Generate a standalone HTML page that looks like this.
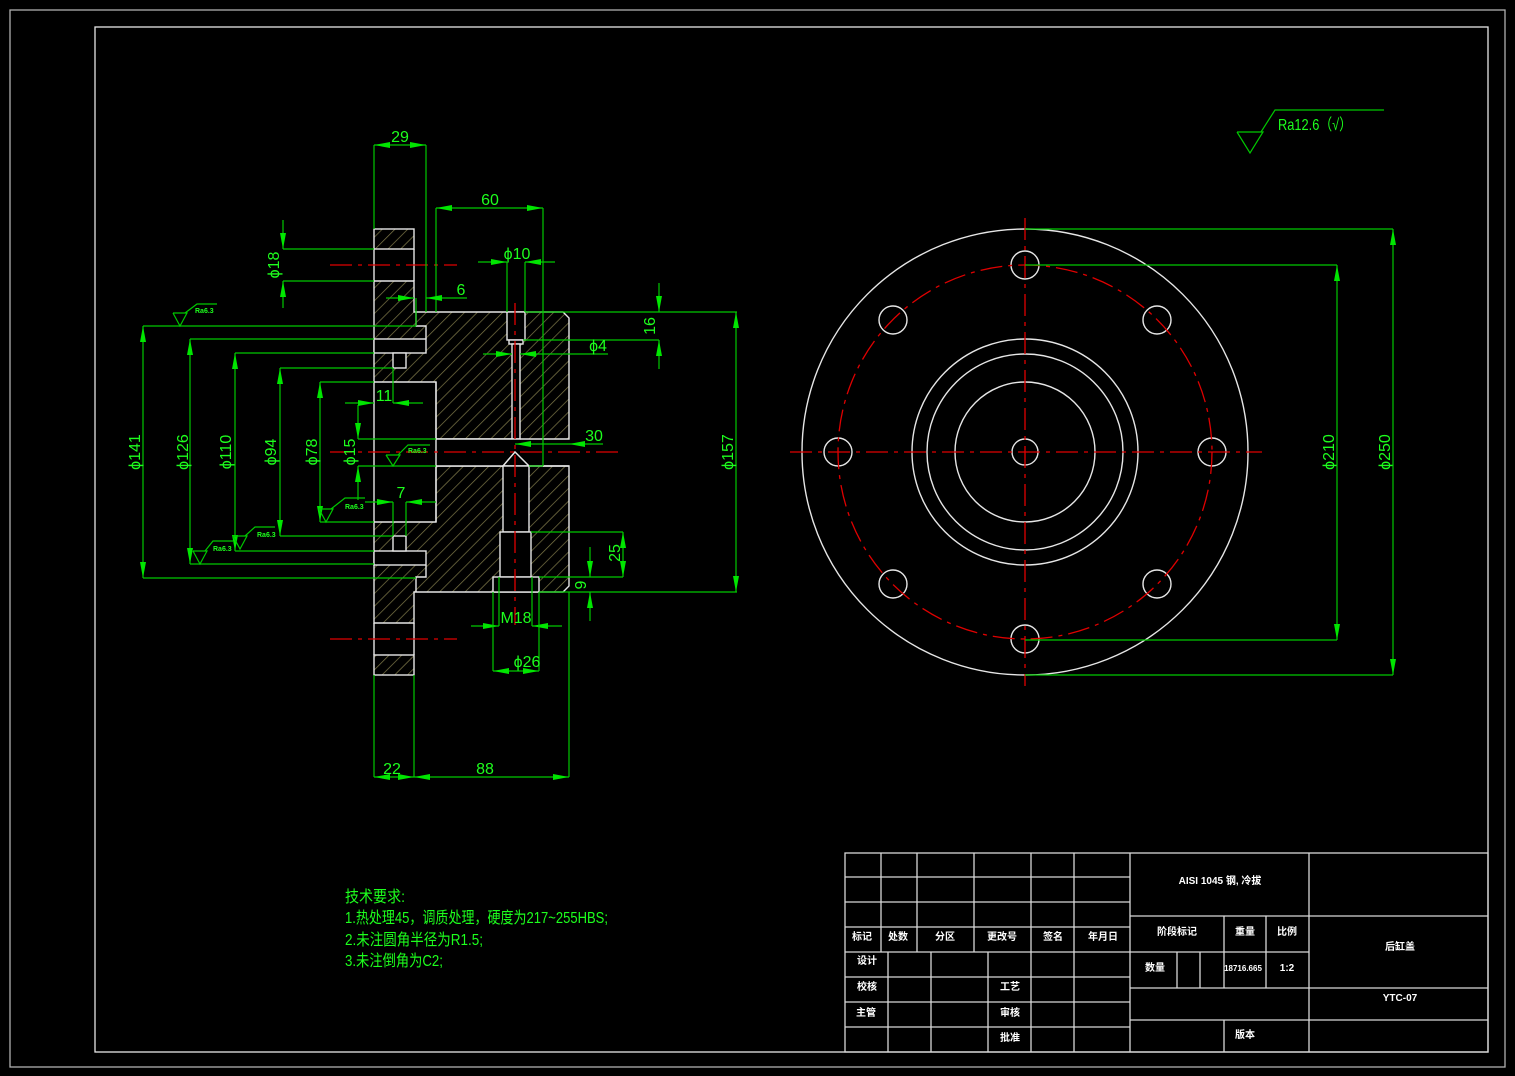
<!DOCTYPE html>
<html><head><meta charset="utf-8">
<style>
html,body{margin:0;padding:0;background:#000;}
svg{display:block;}
text{font-family:"Liberation Sans","Noto Sans CJK SC",sans-serif;}
.g{stroke:#00c800;stroke-width:1.2;fill:none;}
.w{stroke:#e6e6e6;stroke-width:1.4;fill:none;}
.r{stroke:#e00000;stroke-width:1.3;fill:none;stroke-dasharray:22 6 4 6;}
.t{fill:#1dff1d;font-size:16px;}
.tb{fill:#fff;font-size:10px;font-weight:bold;}
</style></head>
<body>
<svg width="1515" height="1076" viewBox="0 0 1515 1076" xmlns="http://www.w3.org/2000/svg">
<defs>
<pattern id="h" patternUnits="userSpaceOnUse" width="9" height="9" patternTransform="rotate(45)">
<rect width="9" height="9" fill="#000"/>
<line x1="0" y1="0" x2="0" y2="9" stroke="#807a4a" stroke-width="1.4"/>
</pattern>
<marker id="a" viewBox="0 0 16 6" refX="16" refY="3" markerWidth="16" markerHeight="6" markerUnits="userSpaceOnUse" orient="auto-start-reverse">
<path d="M0,0 L16,3 L0,6 z" fill="#00e600"/>
</marker>
</defs>
<rect width="1515" height="1076" fill="#000"/>
<rect x="10" y="10" width="1495" height="1057" fill="none" stroke="#b0b0b0" stroke-width="1.3"/>
<rect x="95" y="27" width="1393" height="1025" fill="none" stroke="#e6e6e6" stroke-width="1.3"/>

<!-- LEFT SECTION VIEW -->
<g>
<rect x="374" y="229" width="40" height="20" style="fill:url(#h)" class="w"/>
<polygon points="374,281 414,281 414,312 563,312 569,318 569,439 436,439 436,382 374,382" style="fill:url(#h)" class="w"/>
<polygon points="374,522 436,522 436,466 569,466 569,586 563,592 414,592 414,623 374,623" style="fill:url(#h)" class="w"/>
<rect x="374" y="655" width="40" height="20" style="fill:url(#h)" class="w"/>
<rect x="374" y="339" width="52" height="14" style="fill:#000" class="w"/>
<rect x="393" y="353" width="13" height="15" style="fill:#000" class="w"/>
<polyline points="416,312 416,326 426,326 426,339" class="w"/>
<rect x="374" y="551" width="52" height="14" style="fill:#000" class="w"/>
<rect x="393" y="536" width="13" height="15" style="fill:#000" class="w"/>
<polyline points="416,592 416,577 426,577 426,565" class="w"/>
<rect x="507" y="312" width="18" height="28" style="fill:#000" class="w"/>
<rect x="509" y="340" width="14" height="4" style="fill:#000" class="w"/>
<rect x="512" y="344" width="8" height="95" style="fill:#000" class="w"/>
<polygon points="436,439 520,439 520,447 515,452 503,466 436,466" style="fill:#000;stroke:none"/>
<polyline points="436,439 520,439" class="w"/>
<polyline points="436,466 503,466 515,452 529,466 569,466" class="w"/>
<polygon points="515,452 503,466 529,466" style="fill:#000" class="w"/>
<rect x="503" y="466" width="26" height="66" style="fill:#000" class="w"/>
<rect x="500" y="532" width="31" height="45" style="fill:#000" class="w"/>
<rect x="493" y="577" width="46" height="15" style="fill:#000" class="w"/>
<line x1="374" y1="382" x2="374" y2="522" class="w"/>
<line x1="374" y1="249" x2="374" y2="281" class="w"/>
<line x1="374" y1="623" x2="374" y2="655" class="w"/>
<line x1="414" y1="249" x2="414" y2="281" class="w"/>
<line x1="414" y1="623" x2="414" y2="655" class="w"/>
<line x1="436" y1="382" x2="436" y2="522" class="w"/>
</g>
<line x1="330" y1="265" x2="457" y2="265" class="r"/>
<line x1="330" y1="452" x2="620" y2="452" class="r"/>
<line x1="330" y1="639" x2="457" y2="639" class="r"/>
<line x1="515" y1="303" x2="515" y2="625" class="r"/>

<g class="g">
<polyline points="143,326 416,326"/><polyline points="143,578 416,578"/>
<polyline points="190,339 374,339"/><polyline points="190,564 374,564"/>
<polyline points="235,353 374,353"/><polyline points="235,551 374,551"/>
<polyline points="280,368 393,368"/><polyline points="280,536 393,536"/>
<polyline points="320,382 374,382"/><polyline points="320,522 374,522"/>
<polyline points="358,439 436,439"/><polyline points="358,466 436,466"/>
<polyline points="283,249 374,249"/><polyline points="283,281 374,281"/>
<line x1="143" y1="326" x2="143" y2="578" marker-start="url(#a)" marker-end="url(#a)"/>
<line x1="190" y1="339" x2="190" y2="564" marker-start="url(#a)" marker-end="url(#a)"/>
<line x1="235" y1="353" x2="235" y2="551" marker-start="url(#a)" marker-end="url(#a)"/>
<line x1="280" y1="368" x2="280" y2="536" marker-start="url(#a)" marker-end="url(#a)"/>
<line x1="320" y1="382" x2="320" y2="522" marker-start="url(#a)" marker-end="url(#a)"/>
<line x1="358" y1="405" x2="358" y2="439" marker-end="url(#a)"/>
<line x1="358" y1="500" x2="358" y2="466" marker-end="url(#a)"/>
<line x1="283" y1="220" x2="283" y2="249" marker-end="url(#a)"/>
<line x1="283" y1="308" x2="283" y2="281" marker-end="url(#a)"/>
<line x1="374" y1="145" x2="374" y2="229"/><line x1="426" y1="145" x2="426" y2="312"/>
<line x1="374" y1="145" x2="426" y2="145" marker-start="url(#a)" marker-end="url(#a)"/>
<line x1="436" y1="208" x2="436" y2="312"/><line x1="543" y1="208" x2="543" y2="466"/>
<line x1="436" y1="208" x2="543" y2="208" marker-start="url(#a)" marker-end="url(#a)"/>
<line x1="529" y1="466" x2="543" y2="466"/>
<line x1="507" y1="262" x2="507" y2="312"/><line x1="525" y1="262" x2="525" y2="312"/>
<line x1="478" y1="262" x2="507" y2="262" marker-end="url(#a)"/>
<line x1="555" y1="262" x2="525" y2="262" marker-end="url(#a)"/>
<line x1="416" y1="298" x2="416" y2="326"/>
<line x1="386" y1="298" x2="414" y2="298" marker-end="url(#a)"/>
<line x1="467" y1="298" x2="426" y2="298" marker-end="url(#a)"/>
<line x1="525" y1="312" x2="737" y2="312"/>
<line x1="523" y1="340" x2="659" y2="340"/>
<line x1="659" y1="283" x2="659" y2="312" marker-end="url(#a)"/>
<line x1="659" y1="369" x2="659" y2="340" marker-end="url(#a)"/>
<line x1="483" y1="354" x2="512" y2="354" marker-end="url(#a)"/>
<line x1="608" y1="354" x2="520" y2="354" marker-end="url(#a)"/>
<line x1="345" y1="403" x2="374" y2="403" marker-end="url(#a)"/>
<line x1="423" y1="403" x2="393" y2="403" marker-end="url(#a)"/>
<line x1="393" y1="368" x2="393" y2="403"/>
<line x1="569" y1="444" x2="515" y2="444" marker-end="url(#a)"/>
<line x1="603" y1="444" x2="569" y2="444" marker-end="url(#a)"/>
<line x1="365" y1="502" x2="393" y2="502" marker-end="url(#a)"/>
<line x1="436" y1="502" x2="406" y2="502" marker-end="url(#a)"/>
<line x1="393" y1="502" x2="393" y2="536"/><line x1="406" y1="502" x2="406" y2="536"/>
<line x1="539" y1="592" x2="737" y2="592"/>
<line x1="736" y1="312" x2="736" y2="592" marker-start="url(#a)" marker-end="url(#a)"/>
<line x1="531" y1="532" x2="623" y2="532"/><line x1="539" y1="577" x2="623" y2="577"/>
<line x1="623" y1="532" x2="623" y2="577" marker-start="url(#a)" marker-end="url(#a)"/>
<line x1="590" y1="547" x2="590" y2="577" marker-end="url(#a)"/>
<line x1="590" y1="621" x2="590" y2="592" marker-end="url(#a)"/>
<line x1="499" y1="577" x2="499" y2="626"/><line x1="532" y1="577" x2="532" y2="626"/>
<line x1="471" y1="626" x2="499" y2="626" marker-end="url(#a)"/>
<line x1="562" y1="626" x2="532" y2="626" marker-end="url(#a)"/>
<line x1="493" y1="592" x2="493" y2="671"/><line x1="539" y1="592" x2="539" y2="671"/>
<line x1="493" y1="671" x2="539" y2="671" marker-start="url(#a)" marker-end="url(#a)"/>
<line x1="374" y1="675" x2="374" y2="777"/><line x1="414" y1="675" x2="414" y2="777"/><line x1="569" y1="592" x2="569" y2="777"/>
<line x1="374" y1="777" x2="414" y2="777" marker-start="url(#a)" marker-end="url(#a)"/>
<line x1="414" y1="777" x2="569" y2="777" marker-start="url(#a)" marker-end="url(#a)"/>
<polyline points="173,313 187,313 180,326 173,313"/><polyline points="185,313 197,304 217,304"/>
<polyline points="319,509 333,509 326,522 319,509"/><polyline points="331,509 345,498 365,498"/>
<polyline points="386,455 400,455 393,466 386,455"/><polyline points="398,455 408,445 430,445"/>
<polyline points="233,536 247,536 240,549 233,536"/><polyline points="245,536 255,527 275,527"/>
<polyline points="193,551 207,551 200,564 193,551"/><polyline points="205,551 213,541 233,541"/>
<polyline points="1237,132 1263,132 1250,153 1237,132"/><polyline points="1261,132 1275,110 1384,110"/>
</g>
<g class="t">
<text x="400" y="142" text-anchor="middle">29</text>
<text x="490" y="205" text-anchor="middle">60</text>
<text x="517" y="259" text-anchor="middle">ϕ10</text>
<text x="461" y="295" text-anchor="middle">6</text>
<text x="598" y="351" text-anchor="middle">ϕ4</text>
<text x="384" y="401" text-anchor="middle">11</text>
<text x="594" y="441" text-anchor="middle">30</text>
<text x="401" y="498" text-anchor="middle">7</text>
<text x="516" y="623" text-anchor="middle">M18</text>
<text x="527" y="667" text-anchor="middle">ϕ26</text>
<text x="392" y="774" text-anchor="middle">22</text>
<text x="485" y="774" text-anchor="middle">88</text>
<text transform="translate(140,452) rotate(-90)" text-anchor="middle">ϕ141</text>
<text transform="translate(188,452) rotate(-90)" text-anchor="middle">ϕ126</text>
<text transform="translate(231,452) rotate(-90)" text-anchor="middle">ϕ110</text>
<text transform="translate(276,452) rotate(-90)" text-anchor="middle">ϕ94</text>
<text transform="translate(317,452) rotate(-90)" text-anchor="middle">ϕ78</text>
<text transform="translate(355,452) rotate(-90)" text-anchor="middle">ϕ15</text>
<text transform="translate(279,265) rotate(-90)" text-anchor="middle">ϕ18</text>
<text transform="translate(655,326) rotate(-90)" text-anchor="middle">16</text>
<text transform="translate(733,452) rotate(-90)" text-anchor="middle">ϕ157</text>
<text transform="translate(620,553) rotate(-90)" text-anchor="middle">25</text>
<text transform="translate(586,585) rotate(-90)" text-anchor="middle">9</text>
<text transform="translate(1334,452) rotate(-90)" text-anchor="middle">ϕ210</text>
<text transform="translate(1390,452) rotate(-90)" text-anchor="middle">ϕ250</text>
<text x="1278" y="130" textLength="74" lengthAdjust="spacingAndGlyphs">Ra12.6（√）</text>
</g>
<g fill="#1dff1d" font-size="7" font-weight="bold">
<text x="195" y="313">Ra6.3</text><text x="345" y="509">Ra6.3</text><text x="408" y="453">Ra6.3</text>
<text x="257" y="537">Ra6.3</text><text x="213" y="551">Ra6.3</text>
</g>

<g class="w" stroke-width="1.2">
<circle cx="1025" cy="452" r="223"/>
<circle cx="1025" cy="452" r="113"/>
<circle cx="1025" cy="452" r="98"/>
<circle cx="1025" cy="452" r="70"/>
<circle cx="1025" cy="452" r="13"/>
<circle cx="1025" cy="265" r="14"/><circle cx="1025" cy="639" r="14"/>
<circle cx="838" cy="452" r="14"/><circle cx="1212" cy="452" r="14"/>
<circle cx="893" cy="320" r="14"/><circle cx="1157" cy="320" r="14"/>
<circle cx="893" cy="584" r="14"/><circle cx="1157" cy="584" r="14"/>
</g>
<circle cx="1025" cy="452" r="187" class="r" stroke-dasharray="14 5 3 5"/>
<line x1="790" y1="452" x2="1262" y2="452" class="r"/>
<line x1="1025" y1="218" x2="1025" y2="686" class="r"/>
<g class="g">
<line x1="1025" y1="265" x2="1337" y2="265"/><line x1="1025" y1="640" x2="1337" y2="640"/>
<line x1="1337" y1="265" x2="1337" y2="640" marker-start="url(#a)" marker-end="url(#a)"/>
<line x1="1025" y1="229" x2="1393" y2="229"/><line x1="1025" y1="675" x2="1393" y2="675"/>
<line x1="1393" y1="229" x2="1393" y2="675" marker-start="url(#a)" marker-end="url(#a)"/>
</g>

<g fill="#1dff1d" font-size="16">
<text x="345" y="902" textLength="60" lengthAdjust="spacingAndGlyphs">技术要求:</text>
<text x="345" y="923" textLength="263" lengthAdjust="spacingAndGlyphs">1.热处理45，调质处理，硬度为217~255HBS;</text>
<text x="345" y="945" textLength="138" lengthAdjust="spacingAndGlyphs">2.未注圆角半径为R1.5;</text>
<text x="345" y="966" textLength="98" lengthAdjust="spacingAndGlyphs">3.未注倒角为C2;</text>
</g>

<g stroke="#d8d8d8" stroke-width="1.3" fill="none">
<rect x="845" y="853" width="643" height="199"/>
<line x1="845" y1="877" x2="1130" y2="877"/><line x1="845" y1="902" x2="1130" y2="902"/>
<line x1="845" y1="927" x2="1130" y2="927"/><line x1="845" y1="952" x2="1130" y2="952"/>
<line x1="845" y1="977" x2="1130" y2="977"/><line x1="845" y1="1002" x2="1130" y2="1002"/>
<line x1="845" y1="1027" x2="1130" y2="1027"/>
<line x1="881" y1="853" x2="881" y2="952"/><line x1="917" y1="853" x2="917" y2="952"/>
<line x1="974" y1="853" x2="974" y2="952"/>
<line x1="888" y1="952" x2="888" y2="1052"/><line x1="931" y1="952" x2="931" y2="1052"/><line x1="988" y1="952" x2="988" y2="1052"/>
<line x1="1031" y1="853" x2="1031" y2="1052"/><line x1="1074" y1="853" x2="1074" y2="1052"/>
<line x1="1130" y1="853" x2="1130" y2="1052"/><line x1="1309" y1="853" x2="1309" y2="1052"/>
<line x1="1130" y1="916" x2="1488" y2="916"/><line x1="1130" y1="952" x2="1309" y2="952"/>
<line x1="1130" y1="988" x2="1488" y2="988"/><line x1="1130" y1="1020" x2="1488" y2="1020"/>
<line x1="1224" y1="916" x2="1224" y2="988"/><line x1="1266" y1="916" x2="1266" y2="988"/>
<line x1="1177" y1="952" x2="1177" y2="988"/><line x1="1200" y1="952" x2="1200" y2="988"/>
<line x1="1224" y1="1020" x2="1224" y2="1052"/>
</g>
<g class="tb" text-anchor="middle">
<text x="1220" y="884">AISI 1045 钢, 冷拔</text>
<text x="1177" y="935">阶段标记</text><text x="1245" y="935">重量</text><text x="1287" y="935">比例</text>
<text x="1155" y="971">数量</text><text x="1243" y="971" font-size="8">18716.665</text><text x="1287" y="971">1:2</text>
<text x="1400" y="950">后缸盖</text><text x="1400" y="1001">YTC-07</text><text x="1245" y="1038">版本</text>
<text x="862" y="940">标记</text><text x="898" y="940">处数</text><text x="945" y="940">分区</text>
<text x="1002" y="940">更改号</text><text x="1053" y="940">签名</text><text x="1103" y="940">年月日</text>
<text x="867" y="964">设计</text><text x="867" y="990">校核</text><text x="866" y="1016">主管</text>
<text x="1010" y="990">工艺</text><text x="1010" y="1016">审核</text><text x="1010" y="1041">批准</text>
</g>
</svg>
</body></html>
